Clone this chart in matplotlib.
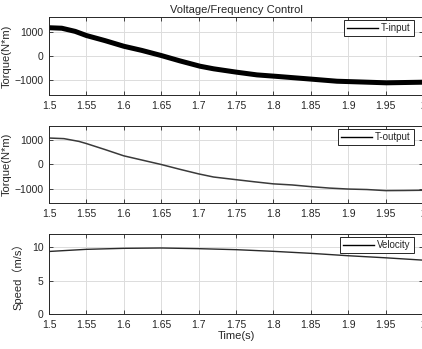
import matplotlib
matplotlib.use("Agg")
import matplotlib.pyplot as plt

# Data
t_in = [1.500, 1.517, 1.535, 1.550, 1.575, 1.600, 1.624, 1.650, 1.675, 1.702, 1.720,
        1.751, 1.778, 1.804, 1.849, 1.885, 1.916, 1.951, 2.000]
t_input = [1160, 1140, 1010, 840, 630, 400, 230, 20, -200, -420, -525,
           -665, -775, -835, -945, -1035, -1065, -1100, -1075]
t_out = [1.500, 1.520, 1.540, 1.550, 1.575, 1.600, 1.625, 1.650, 1.675, 1.700, 1.720,
         1.750, 1.775, 1.800, 1.825, 1.850, 1.875, 1.900, 1.925, 1.950, 1.975, 2.000]
t_output = [1100, 1075, 960, 870, 620, 360, 180, 0, -200, -390, -520,
            -630, -720, -805, -850, -920, -980, -1020, -1040, -1085, -1080, -1070]
t_vel = [1.50, 1.55, 1.60, 1.65, 1.70, 1.75, 1.80, 1.85, 1.90, 1.95, 2.00]
velocity = [9.38, 9.7, 9.85, 9.9, 9.8, 9.65, 9.4, 9.1, 8.74, 8.43, 8.08]
xticks = [1.5, 1.55, 1.6, 1.65, 1.7, 1.75, 1.8, 1.85, 1.9, 1.95, 2.0]
xticklabels = ["1.5", "1.55", "1.6", "1.65", "1.7", "1.75", "1.8", "1.85", "1.9", "1.95", "2"]

plt.rcParams['font.family'] = ['Liberation Sans', 'Noto Sans CJK SC', 'DejaVu Sans']
plt.rcParams['font.size'] = 7.5
TXT = '#262626'

fig = plt.figure(figsize=(4.22, 3.49), dpi=100)
W, H = 422, 349
def pos(l, r, top, bot):
    return [l / W, 1 - bot / H, (r - l) / W, (bot - top) / H]

ax1 = fig.add_axes(pos(49, 423, 17, 95))
ax2 = fig.add_axes(pos(49, 423, 126, 203))
ax3 = fig.add_axes(pos(49, 423, 234, 314))

def style(ax):
    ax.set_xlim(1.5, 2.0)
    ax.set_xticks(xticks)
    ax.set_xticklabels(xticklabels)
    ax.grid(True, color='#dcdcdc', linewidth=0.7)
    ax.set_axisbelow(True)
    ax.tick_params(direction='in', top=True, right=True, length=3, width=0.6,
                   colors=TXT, labelsize=7.5, pad=4)
    for s in ax.spines.values():
        s.set_color(TXT)
        s.set_linewidth(0.7)

ax1.plot(t_in, t_input, color='black', linewidth=3.6, label='T-input',
         solid_joinstyle='round')
ax1.set_ylim(-1600, 1600)
ax1.set_yticks([-1000, 0, 1000])
ax1.set_ylabel('Torque(N*m)', color=TXT, fontsize=8, labelpad=2)
ax1.set_title('Voltage/Frequency Control', color=TXT, fontsize=8, pad=3)
style(ax1)

ax2.plot(t_out, t_output, color='#3a3a3a', linewidth=1.1, label='T-output')
ax2.set_ylim(-1600, 1600)
ax2.set_yticks([-1000, 0, 1000])
ax2.set_ylabel('Torque(N*m)', color=TXT, fontsize=8, labelpad=2)
style(ax2)

ax3.plot(t_vel, velocity, color='#2a2a2a', linewidth=1.0, label='Velocity')
ax3.set_ylim(0, 12)
ax3.set_yticks([0, 5, 10])
ax3.set_ylabel('Speed（m/s）', color=TXT, fontsize=8, labelpad=6)
ax3.set_xlabel('Time(s)', color=TXT, fontsize=8, labelpad=1)
style(ax3)

for ax in (ax1, ax2, ax3):
    leg = ax.legend(loc='upper right', bbox_to_anchor=(0.975, 0.96), fancybox=False,
                    framealpha=1, edgecolor=TXT, fontsize=7, handlelength=3.2,
                    handletextpad=0.3, borderpad=0.3, borderaxespad=0)
    leg.get_frame().set_linewidth(0.7)
    for line in leg.get_lines():
        line.set_linewidth(1.0)
        line.set_color('black')
    for tx in leg.get_texts():
        tx.set_color(TXT)

fig.savefig('out.png', dpi=100)
